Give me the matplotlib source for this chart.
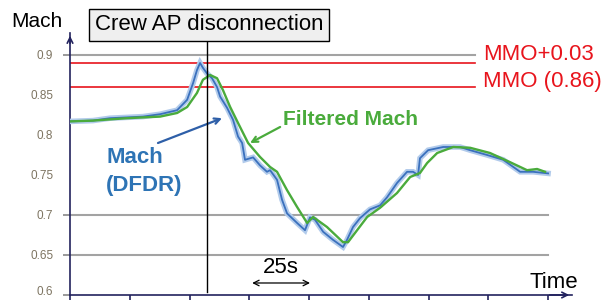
"""Mach number trace around the crew autopilot disconnection."""
import matplotlib
matplotlib.use('Agg')
from matplotlib import pyplot as plt
from matplotlib import transforms

plt.rcParams['font.family'] = ['Liberation Sans', 'DejaVu Sans']

# Recorded Mach (DFDR), time in seconds
dfdr_time = [0, 9.6, 16.7, 30.5, 37.7, 44.8, 49.0, 51.5, 53.1, 54.4, 55.6, 57.3,
             59.4, 61.5, 62.8, 65.7, 68.2, 70.3, 72.0, 73.2, 76.6, 79.5, 82.4,
             83.7, 86.6, 88.7, 90.8, 95.0, 98.3, 100.4, 102.5, 105.9, 110.0,
             114.2, 115.9, 118.4, 121.3, 125.5, 129.7, 132.6, 136.8, 141.0,
             143.5, 145.6, 146.4, 149.8, 156.1, 163.2, 167.4, 174.5, 181.2,
             188.3, 193.7, 200.0]
dfdr_mach = [0.817, 0.818, 0.821, 0.823, 0.826, 0.831, 0.844, 0.865, 0.881, 0.890,
             0.884, 0.877, 0.871, 0.860, 0.848, 0.834, 0.819, 0.798, 0.790, 0.769,
             0.772, 0.762, 0.754, 0.756, 0.744, 0.719, 0.702, 0.690, 0.681, 0.697,
             0.694, 0.679, 0.669, 0.660, 0.669, 0.685, 0.696, 0.707, 0.712, 0.722,
             0.740, 0.754, 0.754, 0.750, 0.771, 0.781, 0.785, 0.785, 0.781, 0.775,
             0.769, 0.754, 0.754, 0.752]

# Filtered Mach
filt_time = [0, 9.6, 23.8, 37.7, 44.8, 49.0, 53.1, 55.6, 58.6, 61.5, 64.0, 65.7,
             67.0, 70.3, 74.5, 79.5, 83.7, 86.6, 90.8, 95.0, 99.2, 101.7, 107.5,
             114.2, 116.3, 120.1, 124.3, 129.7, 136.8, 142.3, 146.4, 149.4, 153.6,
             160.3, 167.4, 175.7, 184.1, 191.2, 195.4, 198.7]
filt_mach = [0.817, 0.818, 0.821, 0.823, 0.8275, 0.835, 0.8525, 0.869, 0.875, 0.871,
             0.856, 0.844, 0.835, 0.815, 0.790, 0.7725, 0.760, 0.754, 0.731, 0.710,
             0.690, 0.6975, 0.685, 0.666, 0.666, 0.681, 0.6975, 0.709, 0.7275,
             0.7475, 0.7525, 0.765, 0.7775, 0.785, 0.784, 0.7775, 0.766, 0.756,
             0.7575, 0.754]

y_ticks = [0.6, 0.65, 0.7, 0.75, 0.8, 0.85, 0.9]
y_tick_labels = ['0.6', '0.65', '0.7', '0.75', '0.8', '0.85', '0.9']
x_ticks = [0, 25, 50, 75, 100, 125, 150, 175, 200]
grid_levels = [0.65, 0.7]
mmo = 0.86
mmo_plus = 0.89
ap_disconnect_time = 57.5
limit_end = 169.5

AXIS_COLOR = '#22225e'
RED = '#e8141c'
GREEN = '#4aab3c'
BLUE = '#3a70bd'


def main():
    fig = plt.figure(figsize=(6.03, 3.0), dpi=100)
    ax = fig.add_axes([0.1161, 0.0167, 0.8325, 0.8733])
    ax.set_xlim(0, 210)
    ax.set_ylim(0.6, 0.9275)

    # Reference lines
    for lvl in grid_levels:
        ax.plot([0, 200], [lvl, lvl], color='#a3a3a3', lw=1.5, zorder=1)
    ax.plot([0, limit_end], [0.9, 0.9], color='#a3a3a3', lw=1.5, zorder=1)
    ax.plot([0, limit_end], [mmo_plus, mmo_plus], color=RED, lw=1.2, zorder=2)
    ax.plot([0, limit_end], [mmo, mmo], color=RED, lw=1.2, zorder=2)

    # Mach traces
    ax.plot(dfdr_time, dfdr_mach, color='#b2cbeb', lw=4.0, zorder=3,
            solid_joinstyle='miter')
    ax.plot(dfdr_time, dfdr_mach, color=BLUE, lw=1.3, zorder=4)
    ax.plot(filt_time, filt_mach, color=GREEN, lw=1.7, zorder=5)

    # AP disconnection marker
    ax.plot([ap_disconnect_time, ap_disconnect_time], [0.604, 0.94],
            color='black', lw=1.0, zorder=6, clip_on=False)
    fig.text(0.3466, 0.918, 'Crew AP disconnection', fontsize=16,
             ha='center', va='center',
             bbox=dict(boxstyle='square,pad=0.25', facecolor='#efefef',
                       edgecolor='black', lw=1.0))

    # Axes styling
    for side in ('top', 'right'):
        ax.spines[side].set_visible(False)
    for side in ('left', 'bottom'):
        ax.spines[side].set_color(AXIS_COLOR)
        ax.spines[side].set_linewidth(1.2)
    ax.annotate('', xy=(0, 1.0), xytext=(0, 0.95), xycoords='axes fraction',
                arrowprops=dict(arrowstyle='->', color=AXIS_COLOR, lw=1.2))
    ax.annotate('', xy=(1.0, 0), xytext=(0.95, 0), xycoords='axes fraction',
                arrowprops=dict(arrowstyle='->', color=AXIS_COLOR, lw=1.2))

    ax.set_xticks(x_ticks)
    ax.set_xticklabels([])
    ax.tick_params(axis='x', direction='out', length=4, color=AXIS_COLOR, width=1.2)
    ax.set_yticks(y_ticks)
    ax.set_yticklabels(y_tick_labels, fontsize=8.5, color='#7d7461')
    ax.tick_params(axis='y', direction='out', length=5, color='#888888',
                   width=1.2, pad=7)
    for val, tick in zip(y_ticks, ax.yaxis.get_major_ticks()):
        if val in (0.75, 0.8, 0.85):
            tick.tick1line.set_visible(False)
    # Nudge the bottom label up so it stays inside the picture
    bottom_label = ax.get_yticklabels()[0]
    bottom_label.set_transform(bottom_label.get_transform() +
                               transforms.ScaledTranslation(0, 3 / 72, fig.dpi_scale_trans))

    # Labels
    fig.text(0.018, 0.927, 'Mach', fontsize=15, ha='left', va='center')
    fig.text(0.878, 0.06, 'Time', fontsize=16, ha='left', va='center')
    fig.text(0.801, 0.817, 'MMO+0.03', fontsize=16, color=RED, ha='left', va='center')
    fig.text(0.801, 0.727, 'MMO (0.86)', fontsize=16, color=RED, ha='left', va='center')

    ax.text(89.1, 0.819, 'Filtered Mach', fontsize=15, fontweight='bold',
            color=GREEN, ha='left', va='center')
    ax.annotate('', xy=(75.3, 0.79), xytext=(87.9, 0.81),
                arrowprops=dict(arrowstyle='->', color=GREEN, lw=1.6,
                                shrinkA=0, shrinkB=0))
    ax.text(15.1, 0.754, 'Mach\n(DFDR)', fontsize=16, fontweight='bold',
            color='#2e74b5', ha='left', va='center', linespacing=1.45)
    ax.annotate('', xy=(63.6, 0.821), xytext=(36.8, 0.79),
                arrowprops=dict(arrowstyle='->', color='#2e5fa8', lw=1.6,
                                shrinkA=0, shrinkB=0))

    # 25 s scale
    ax.annotate('', xy=(76.2, 0.615), xytext=(100.4, 0.615),
                arrowprops=dict(arrowstyle='<->', color='black', lw=0.9,
                                shrinkA=0, shrinkB=0))
    ax.text(88.3, 0.634, '25s', fontsize=16, ha='center', va='center')

    fig.savefig('out.png', dpi=100)


if __name__ == '__main__':
    main()
